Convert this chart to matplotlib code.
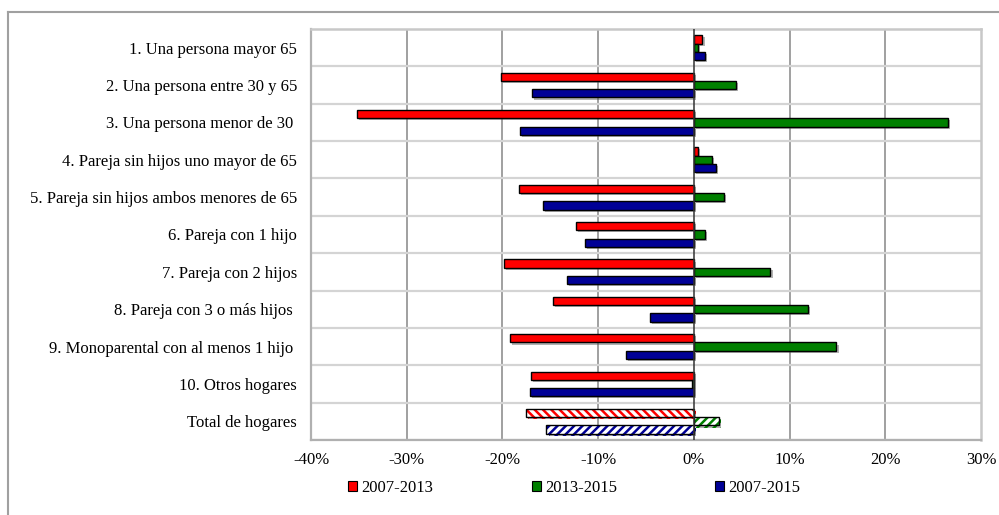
import matplotlib
matplotlib.use("Agg")
import matplotlib.pyplot as plt
import matplotlib.patheffects as pe
from matplotlib.patches import Patch
from matplotlib.lines import Line2D
import numpy as np

categories = [
    "1. Una persona mayor 65",
    "2. Una persona entre 30 y 65",
    "3. Una persona menor de 30 ",
    "4. Pareja sin hijos uno mayor de 65",
    "5. Pareja sin hijos ambos menores de 65",
    "6. Pareja con 1 hijo",
    "7. Pareja con 2 hijos",
    "8. Pareja con 3 o más hijos ",
    "9. Monoparental con al menos 1 hijo ",
    "10. Otros hogares",
    "Total de hogares",
]
s_2007_2013 = [0.9, -20.2, -35.2, 0.4, -18.3, -12.3, -19.8, -14.7, -19.2, -17.0, -17.5]
s_2013_2015 = [0.4, 4.4, 26.5, 1.9, 3.1, 1.15, 8.0, 11.9, 14.9, -0.2, 2.6]
s_2007_2015 = [1.2, -16.9, -18.2, 2.3, -15.8, -11.4, -13.3, -4.6, -7.1, -17.1, -15.4]
series_names = ["2007-2013", "2013-2015", "2007-2015"]
series_colors = ["#FF0000", "#008000", "#000096"]
xticks = [-40, -30, -20, -10, 0, 10, 20, 30]

plt.rcParams['font.family'] = ['Liberation Serif', 'DejaVu Serif']
plt.rcParams['hatch.linewidth'] = 1.8

fig = plt.figure(figsize=(9.99, 5.15), dpi=100)
ax = fig.add_axes([311/999, 1-440/515, (981-311)/999, (440-29)/515])

n = len(categories)
y = np.arange(n)
h = 0.222
shadow = [pe.SimplePatchShadow(offset=(1.5, -1.5), shadow_rgbFace='#555555', alpha=0.45), pe.Normal()]
series = [s_2007_2013, s_2013_2015, s_2007_2015]
hatches = ['\\\\\\\\', '////', '////']
for k, (vals, col) in enumerate(zip(series, series_colors)):
    pos = y + (k - 1) * h
    vals = np.array(vals)
    bars = ax.barh(pos[:-1], vals[:-1], height=h, color=col, edgecolor='black',
                   linewidth=1.0, zorder=3)
    for b in bars:
        b.set_path_effects(shadow)
    hb = ax.barh(pos[-1:], vals[-1:], height=h, color='white', edgecolor=col,
                 linewidth=0, hatch=hatches[k], zorder=3)
    for b in hb:
        b.set_path_effects(shadow)
    ax.barh(pos[-1:], vals[-1:], height=h, fill=False, edgecolor='black',
            linewidth=1.0, zorder=4)

ax.set_xlim(-40, 30)
ax.set_ylim(n - 0.5, -0.5)
ax.set_xticks(xticks)
ax.set_xticklabels([f"{v}%" for v in xticks], fontsize=12)
ax.set_yticks(y)
ax.set_yticklabels(categories, fontsize=12)
ax.tick_params(axis='both', length=0)
ax.tick_params(axis='y', pad=10)
ax.tick_params(axis='x', pad=9)

for xv in xticks[1:-1]:
    if xv != 0:
        ax.axvline(xv, color='#999999', lw=1.3, zorder=1)
ax.axvline(0, color='#333333', lw=1.1, zorder=5)
for yb in np.arange(-0.5, n, 1.0)[1:]:
    ax.axhline(yb, color='#d4d4d4', lw=1.6, zorder=1)

for side in ['left', 'bottom']:
    ax.spines[side].set_color('#b0b0b0')
    ax.spines[side].set_linewidth(1.6)
for side in ['top', 'right']:
    ax.spines[side].set_color('#c8c8c8')
    ax.spines[side].set_linewidth(1.8)

handles = [Patch(facecolor=c, edgecolor='black', linewidth=0.8) for c in series_colors]
leg = fig.legend(handles, series_names, loc='center left', bbox_to_anchor=(348/999, 1-488/515),
                 ncol=3, frameon=False, fontsize=12, handlelength=0.55, handleheight=0.55,
                 handletextpad=0.25, columnspacing=5.9, borderaxespad=0, borderpad=0)

fig.add_artist(Line2D([8/999, 8/999], [0, 1-12/515], transform=fig.transFigure, color='#a0a0a0', lw=1.5))
fig.add_artist(Line2D([8/999, 1.0], [1-12/515, 1-12/515], transform=fig.transFigure, color='#a0a0a0', lw=1.5))

fig.savefig("out.png", dpi=100)
